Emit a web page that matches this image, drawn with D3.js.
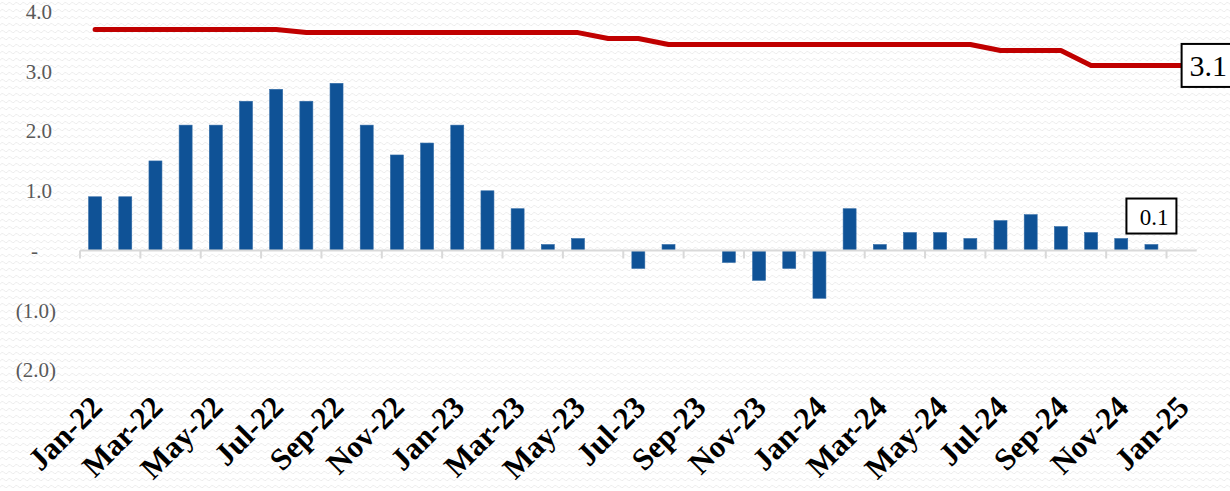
<!DOCTYPE html>
<html>
<head>
<meta charset="utf-8">
<script src="https://cdn.jsdelivr.net/npm/d3@7"></script>
<style>
  html, body { margin: 0; padding: 0; background: #fff; }
  svg { display: block; }
</style>
</head>
<body>
<div id="chart"></div>
<script>
// month categories
var months = ["Jan-22","Feb-22","Mar-22","Apr-22","May-22","Jun-22","Jul-22","Aug-22","Sep-22","Oct-22","Nov-22","Dec-22",
              "Jan-23","Feb-23","Mar-23","Apr-23","May-23","Jun-23","Jul-23","Aug-23","Sep-23","Oct-23","Nov-23","Dec-23",
              "Jan-24","Feb-24","Mar-24","Apr-24","May-24","Jun-24","Jul-24","Aug-24","Sep-24","Oct-24","Nov-24","Dec-24",
              "Jan-25"];

// bars (yoy %), no value for the last month
var barValues = [0.9,0.9,1.5,2.1,2.1,2.5,2.7,2.5,2.8,2.1,1.6,1.8,
                 2.1,1.0,0.7,0.1,0.2,0.0,-0.3,0.1,0.0,-0.2,-0.5,-0.3,
                 -0.8,0.7,0.1,0.3,0.3,0.2,0.5,0.6,0.4,0.3,0.2,0.1,
                 null];

// red line (rate %)
var lineValues = [3.7,3.7,3.7,3.7,3.7,3.7,3.7,3.65,3.65,3.65,3.65,3.65,
                  3.65,3.65,3.65,3.65,3.65,3.55,3.55,3.45,3.45,3.45,3.45,3.45,
                  3.45,3.45,3.45,3.45,3.45,3.45,3.35,3.35,3.35,3.1,3.1,3.1,
                  3.1];

var yTicks = [-2, -1, 0, 1, 2, 3, 4];

var W = 1230, H = 491;
var left = 80, right = 1196.7, zeroY = 250.5, unit = 59.7;

var svg = d3.select("#chart").append("svg")
    .attr("width", W)
    .attr("height", H);

//Wavy background texture
var defs = svg.append("defs");
var pat = defs.append("pattern")
    .attr("id", "wave")
    .attr("width", 7)
    .attr("height", 7)
    .attr("patternUnits", "userSpaceOnUse");
pat.append("path")
    .attr("d", "M0,4.5 Q1.75,1 3.5,3 T7,4.5")
    .attr("fill", "none")
    .attr("stroke", "#ececec")
    .attr("stroke-width", 1);
svg.append("rect").attr("width", W).attr("height", H).attr("fill", "#fff");
svg.append("rect").attr("width", W).attr("height", H).attr("fill", "url(#wave)");

//Scales
var x = d3.scaleBand()
    .domain(months)
    .range([left, right])
    .padding(0);

var y = d3.scaleLinear()
    .domain([0, 4])
    .range([zeroY, zeroY - 4 * unit]);

var barW = x.bandwidth() * 0.43;

//Y axis labels
function fmt(v) {
    if (v === 0) return "-";
    if (v < 0) return "(" + Math.abs(v).toFixed(1) + ")";
    return v.toFixed(1);
}
svg.append("g")
    .selectAll("text")
    .data(yTicks)
    .enter().append("text")
    .attr("x", function(d) { return d > 0 ? 52 : (d < 0 ? 56 : 38); })
    .attr("y", function(d) { return y(d); })
    .attr("dy", "0.35em")
    .attr("text-anchor", "end")
    .style("font-family", "'Liberation Serif', serif")
    .style("font-variant-numeric", "oldstyle-nums")
    .style("font-size", "21px")
    .style("fill", "#595959")
    .text(fmt);

//Bars
svg.append("g")
    .selectAll("rect")
    .data(months.map(function(m, i) { return {m: m, v: barValues[i]}; })
        .filter(function(d) { return d.v !== null && d.v !== 0; }))
    .enter().append("rect")
    .attr("x", function(d) { return x(d.m) + (x.bandwidth() - barW) / 2; })
    .attr("width", barW)
    .attr("y", function(d) { return y(Math.max(0, d.v)); })
    .attr("height", function(d) { return Math.abs(y(d.v) - y(0)); })
    .style("fill", "#0f5296")
    .style("stroke", "#2f6aa6")
    .style("stroke-width", 0.6);

//Category axis line + ticks every 2 months
svg.append("line")
    .attr("x1", left).attr("x2", right)
    .attr("y1", y(0)).attr("y2", y(0))
    .style("stroke", "#d9d9d9")
    .style("stroke-width", 2);

svg.append("g")
    .selectAll("line")
    .data(months.filter(function(m, i) { return i % 2 === 0; }))
    .enter().append("line")
    .attr("x1", function(d) { return x(d); })
    .attr("x2", function(d) { return x(d); })
    .attr("y1", y(0))
    .attr("y2", y(0) + 8)
    .style("stroke", "#d9d9d9")
    .style("stroke-width", 2);

//Month labels (rotated, at the bottom)
svg.append("g")
    .selectAll("text")
    .data(months.filter(function(m, i) { return i % 2 === 0; }))
    .enter().append("text")
    .attr("transform", function(d) {
        return "translate(" + (x(d) + x.bandwidth() / 2 + 9) + ",409) rotate(-45)";
    })
    .attr("text-anchor", "end")
    .style("font-family", "'Liberation Serif', 'Times New Roman', serif")
    .style("font-weight", "bold")
    .style("font-size", "31px")
    .style("fill", "#000")
    .text(function(d) { return d; });

//Red line
var line = d3.line()
    .x(function(d, i) { return x(months[i]) + x.bandwidth() / 2; })
    .y(function(d) { return y(d); });

svg.append("path")
    .datum(lineValues)
    .attr("d", line)
    .style("fill", "none")
    .style("stroke", "#c00000")
    .style("stroke-width", 5)
    .style("stroke-linecap", "round")
    .style("stroke-linejoin", "round");

//Last value label for line
var lastI = lineValues.length - 1;
var lx = x(months[lastI]) + x.bandwidth() / 2,
    ly = y(lineValues[lastI]);
svg.append("rect")
    .attr("x", lx)
    .attr("y", ly - 21.5)
    .attr("width", 56)
    .attr("height", 43)
    .style("fill", "#fff")
    .style("stroke", "#000")
    .style("stroke-width", 2);
svg.append("text")
    .attr("x", lx + 8)
    .attr("y", ly)
    .attr("dy", "0.35em")
    .style("font-family", "'Liberation Serif', serif")
    .style("font-size", "30px")
    .style("fill", "#000")
    .text(lineValues[lastI].toFixed(1));

//Last value label for bars
var lastB = barValues.length - 2;
var bx = x(months[lastB]) + x.bandwidth() / 2,
    by = y(barValues[lastB]);
svg.append("rect")
    .attr("x", bx - 25)
    .attr("y", by - 46)
    .attr("width", 50)
    .attr("height", 35)
    .style("fill", "#fff")
    .style("stroke", "#000")
    .style("stroke-width", 2);
svg.append("text")
    .attr("x", bx + 17)
    .attr("y", by - 20)
    .attr("text-anchor", "end")
    .style("font-family", "'Liberation Serif', serif")
    .style("font-size", "23px")
    .style("fill", "#000")
    .text(barValues[lastB].toFixed(1));
</script>
</body>
</html>
